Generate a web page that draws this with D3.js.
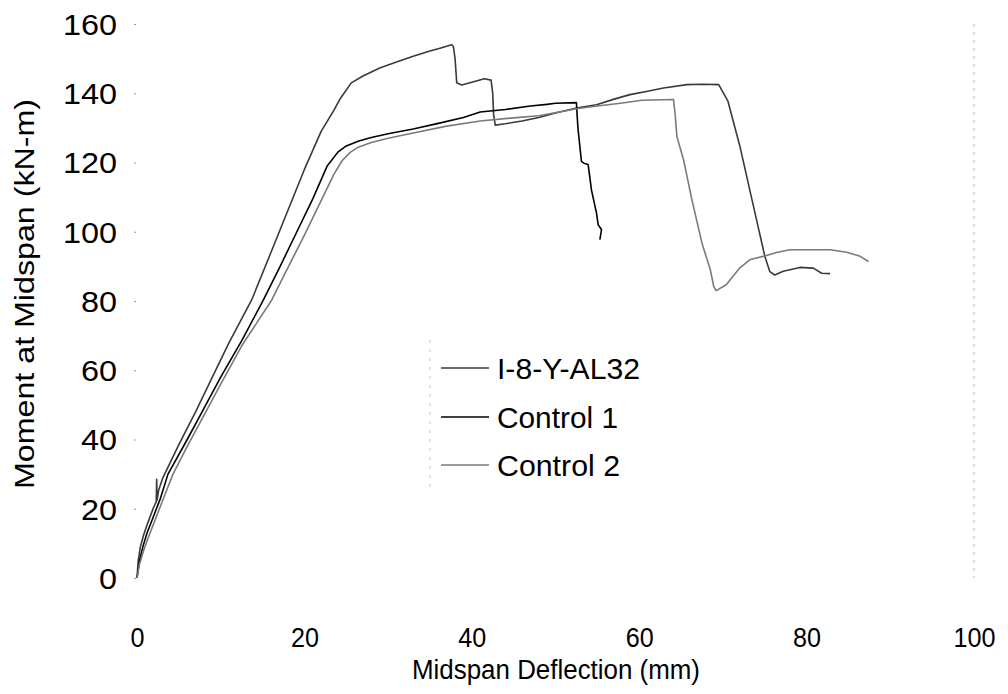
<!DOCTYPE html>
<html>
<head>
<meta charset="utf-8">
<script src="https://cdn.jsdelivr.net/npm/d3@7"></script>
<style>
  html, body { margin: 0; padding: 0; background: #fff; }
  svg { display: block; font-family: "Liberation Sans", Arial, sans-serif; }
</style>
</head>
<body>
<svg id="chart" width="1008" height="694"></svg>
<script>
// ---- Data ----
const xTicks = [0, 20, 40, 60, 80, 100];
const yTicks = [0, 20, 40, 60, 80, 100, 120, 140, 160];
const seriesNames = ["I-8-Y-AL32", "Control 1", "Control 2"];

// I-8-Y-AL32
const al32X = [0,0.15,0.4,0.8,1.3,2,2.3,2.35,2.4,2.6,3.1,5,7,9,11,13.7,16,18,20,22,23.5,24.3,25.6,27,29,31,33,35,36.2,37.6,37.8,38.0,38.2,38.8,40,41.5,42.3,42.5,42.6,42.8,44,46,48,50,52.5,54.9,57,58.9,61,62.9,65.7,67.5,69.5,70.6,72,73.5,75,75.6,76.2,77.2,79.2,80.8,81.8,82.8];
const al32Y = [0,5,9,12.5,16,20.5,22,28.5,22.5,25.5,29,38.5,48,58,68,80.3,94,106,118,129,135,138.5,143,145,147.3,149,150.7,152.2,153,154,153.5,150,143,142.4,143.2,144.2,143.8,140,134,130.8,131.2,132,133,134.3,135.7,136.7,138.3,139.6,140.6,141.5,142.5,142.6,142.5,137.7,125,109,93,88.5,87.5,88.6,89.7,89.5,88,87.9];

// Control 1
const c1X = [0,0.3,0.7,1.2,2,2.8,3.7,6,8,10,12.5,15.1,17,19,21,22.7,24,25,26.5,28,30,33,36,39,41,44,47,49,50,52.5,52.6,52.7,53.1,53.4,53.9,54.3,54.9,55.1,55.5,55.3];
const c1Y = [0,5,9,13,18,23,30,40,49,58,68.5,80.3,89.5,99.5,109.5,118.9,123,124.8,126.2,127.2,128.3,129.7,131.3,133,134.6,135.3,136.3,136.8,137.1,137.3,133,129.5,120.3,119.8,119.4,112,105.4,102,100.6,97.7];

// Control 2
const c2X = [0,0.3,0.8,1.4,2.2,3,4.3,6,8,10,12.5,16.1,18,20,22,23.5,24.5,25.5,26.5,28,30,33,37,41,45,48,52.5,55,58,60.3,64.1,64.3,64.5,65.3,66.3,67.5,68.5,68.9,69.2,70.4,72,73.2,75,76.4,78,80,82.8,84.8,86.4,87.4];
const c2Y = [0,4,8,12,17,22,30,38,47,56,67,80.3,89.5,99,109,116.5,120.5,123,124.5,125.8,127,128.5,130.5,132,132.9,133.5,135.5,136.3,137.2,138,138.2,133.8,127.5,120.8,109.2,96.7,89,84.2,83,84.7,89.5,91.9,93,94,94.8,94.8,94.8,94.1,92.9,91.4];

const seriesX = [al32X, c1X, c2X];
const seriesY = [al32Y, c1Y, c2Y];
const seriesColor = ["#3a3a3a", "#000000", "#7a7a7a"];

// ---- Chart ----
const svg = d3.select("#chart");
const x = d3.scaleLinear().domain([0, 100]).range([137, 974]);
const y = d3.scaleLinear().domain([0, 160]).range([578, 24]);

// faint plot-area right border
svg.append("line")
  .attr("x1", x(100)).attr("x2", x(100))
  .attr("y1", y(160)).attr("y2", y(0))
  .attr("stroke", "#b8b8b8").attr("stroke-width", 1)
  .attr("stroke-dasharray", "3,5");

// x axis
const gx = svg.append("g")
  .attr("transform", `translate(0,${y(0)})`)
  .call(d3.axisBottom(x).tickValues(xTicks).tickSize(0).tickFormat(d3.format("d")));
gx.select(".domain").remove();
gx.selectAll("text")
  .attr("y", 69).attr("dy", 0)
  .attr("font-size", 28)
  .attr("font-family", "Liberation Sans, Arial, sans-serif")
  .attr("fill", "#000")
  .attr("textLength", d => String(d).length * 14)
  .attr("lengthAdjust", "spacingAndGlyphs");

// y axis
const gy = svg.append("g")
  .attr("transform", `translate(${x(0)},0)`)
  .call(d3.axisLeft(y).tickValues(yTicks).tickSize(0).tickFormat(d3.format("d")));
gy.select(".domain").remove();
gy.selectAll("text")
  .attr("x", -20).attr("dy", "0.36em")
  .attr("font-size", 29)
  .attr("font-family", "Liberation Sans, Arial, sans-serif")
  .attr("fill", "#000")
  .attr("textLength", d => String(d).length * 18)
  .attr("lengthAdjust", "spacingAndGlyphs");

// faint tick dots on left
gy.selectAll(".tick").append("line")
  .attr("x1", -3).attr("x2", -1).attr("stroke", "#999").attr("stroke-width", 1);

// axis titles
svg.append("text")
  .attr("x", 556).attr("y", 679)
  .attr("text-anchor", "middle")
  .attr("font-size", 27)
  .attr("textLength", 288).attr("lengthAdjust", "spacingAndGlyphs")
  .text("Midspan Deflection (mm)");

svg.append("text")
  .attr("transform", "translate(34,294) rotate(-90)")
  .attr("text-anchor", "middle")
  .attr("font-size", 28)
  .attr("textLength", 390).attr("lengthAdjust", "spacingAndGlyphs")
  .text("Moment at Midspan (kN-m)");

// curves
const line = d3.line().x(d => x(d[0])).y(d => y(d[1]));
seriesX.forEach((xs, i) => {
  const pts = xs.map((v, j) => [v, seriesY[i][j]]);
  svg.append("path")
    .datum(pts)
    .attr("fill", "none")
    .attr("stroke", seriesColor[i])
    .attr("stroke-width", 1.6)
    .attr("stroke-linejoin", "round")
    .attr("d", line);
});

// legend
svg.append("line")
  .attr("x1", 430).attr("x2", 430).attr("y1", 340).attr("y2", 488)
  .attr("stroke", "#c4c4c4").attr("stroke-width", 1).attr("stroke-dasharray", "3,6");

const legY = [368, 417, 465];
const legLen = [143, 121, 123];
seriesNames.forEach((name, i) => {
  svg.append("line")
    .attr("x1", 441).attr("x2", 489)
    .attr("y1", legY[i]).attr("y2", legY[i])
    .attr("stroke", seriesColor[i]).attr("stroke-width", 1.6);
  svg.append("text")
    .attr("x", 497).attr("y", legY[i] + 11)
    .attr("font-size", 29)
    .attr("textLength", legLen[i]).attr("lengthAdjust", "spacingAndGlyphs")
    .text(name);
});
</script>
</body>
</html>
